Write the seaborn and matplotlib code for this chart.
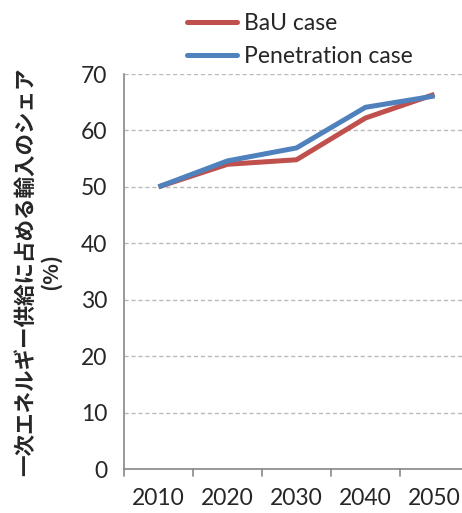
import matplotlib
matplotlib.use("Agg")
import matplotlib.pyplot as plt
import seaborn as sns
import pandas as pd

years = ["2010", "2020", "2030", "2040", "2050"]
bau = [50.0, 54.0, 54.8, 62.2, 66.4]
penetration = [50.0, 54.6, 56.9, 64.1, 66.1]
series_names = ["BaU case", "Penetration case"]
yticks = [0, 10, 20, 30, 40, 50, 60, 70]
ylabel = "一次エネルギー供給に占める輸入のシェア\n(%)"

sns.set_theme(style="white")
plt.rcParams['font.family'] = ['Lato', 'Noto Sans CJK JP', 'DejaVu Sans']

df = pd.DataFrame({
    "year": list(range(len(years))) * 2,
    "value": bau + penetration,
    "case": [series_names[0]] * len(years) + [series_names[1]] * len(years),
})

fig = plt.figure(figsize=(4.62, 5.13), dpi=100)
ax = fig.add_axes([124/462, 44/513, 345/462, 395/513])
sns.lineplot(data=df, x="year", y="value", hue="case",
             palette=["#C0504D", "#4F81BD"], linewidth=3.6, ax=ax,
             legend=False, solid_capstyle="butt")

ax.set_xlim(-0.5, 4.5)
ax.set_ylim(0, 70)
ax.set_yticks(yticks)
ax.set_yticklabels([str(v) for v in yticks], fontsize=16.5)
ax.set_xticks(range(len(years)))
ax.set_xticklabels(years, fontsize=16.5)
ax.tick_params(axis='x', length=0, pad=14)
ax.tick_params(axis='y', length=0, pad=12)
for b in [-0.5, 0.5, 1.5, 2.5, 3.5]:
    ax.plot([b, b], [0, -1.2], color="#888888", lw=1.2, clip_on=False)
ax.grid(axis='y', color="#BBBBBB", linestyle=(0, (3, 2)), linewidth=1)
ax.set_axisbelow(True)
for s in ["top", "right"]:
    ax.spines[s].set_visible(False)
ax.spines["left"].set_color("#888888")
ax.spines["bottom"].set_color("#888888")
ax.spines["left"].set_linewidth(1.2)
ax.spines["bottom"].set_linewidth(1.2)
ax.set_xlabel("")
ax.set_ylabel(ylabel, fontsize=15.5, fontweight="bold",
              family=['Noto Sans CJK JP', 'DejaVu Sans'], linespacing=1.2)
ax.yaxis.set_label_coords(-0.183, 0.5)

from matplotlib.lines import Line2D
handles = [Line2D([], [], color="#C0504D", lw=3.6),
           Line2D([], [], color="#4F81BD", lw=3.6)]
fig.legend(handles, series_names, loc="upper left",
           bbox_to_anchor=(166/462, 1.014), frameon=False, fontsize=16.5,
           handlelength=2.2, handletextpad=0.3, labelspacing=0.5)

fig.savefig("out.png", dpi=100)
